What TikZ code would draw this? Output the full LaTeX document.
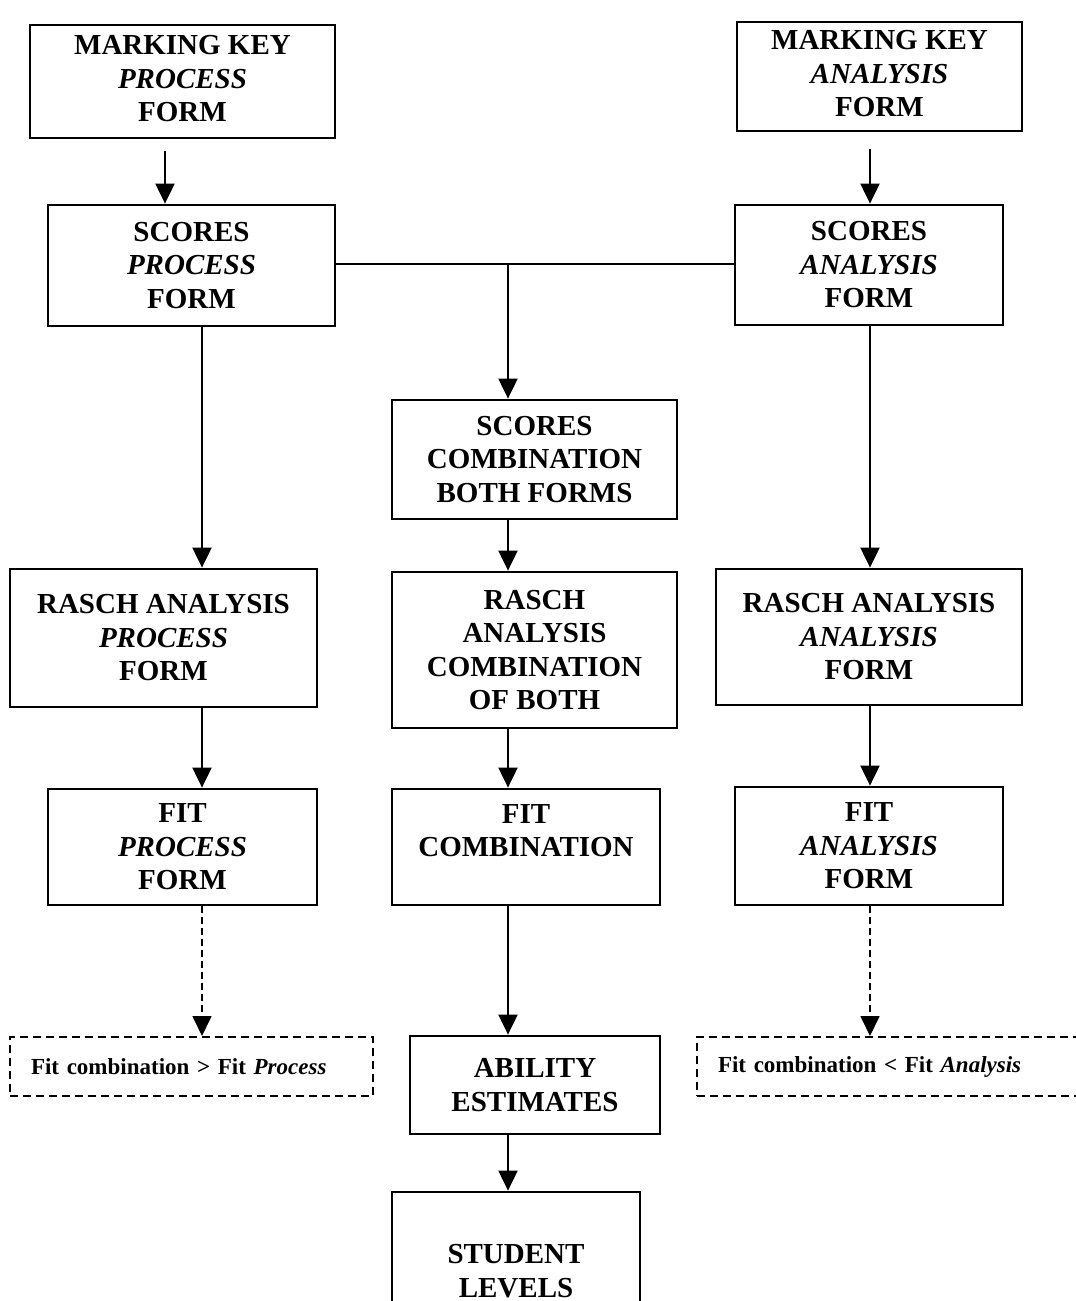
\documentclass[tikz,border=0pt]{standalone}
\usepackage{fontspec}
\setmainfont{Liberation Serif}
\usetikzlibrary{arrows.meta}
\begin{document}
\begin{tikzpicture}[x=1pt,y=-1pt,
  box/.style={draw, line width=2.8pt, inner sep=0pt, align=center,
    font=\bfseries\fontsize{29}{33.5}\selectfont},
  dbox/.style={draw, line width=2pt, dash pattern=on 8pt off 5pt, inner sep=0pt,
    font=\bfseries\fontsize{23}{26}\selectfont},
  arr/.style={line width=2pt, -{Triangle[length=20pt,width=19pt]}},
  darr/.style={line width=1.7pt, dash pattern=on 7pt off 4pt, -{Triangle[length=20pt,width=19pt]}}]
\useasboundingbox (0,0) rectangle (1076,1301);
\clip (0,0) rectangle (1076,1301);
\node[box, minimum width=305pt, minimum height=113pt] (mkp) at (182.5,81.5) {\raisebox{5pt}{\begin{tabular}{@{}c@{}}MARKING KEY\\\textit{PROCESS}\\FORM\end{tabular}}};
\node[box, minimum width=285pt, minimum height=109pt] (mka) at (879.5,76.5) {\raisebox{3pt}{\begin{tabular}{@{}c@{}}MARKING KEY\\\textit{ANALYSIS}\\FORM\end{tabular}}};
\node[box, minimum width=287pt, minimum height=121pt] (sp) at (191.5,265.5) {SCORES\\\textit{PROCESS}\\FORM};
\node[box, minimum width=268pt, minimum height=120pt] (sa) at (869,265) {SCORES\\\textit{ANALYSIS}\\FORM};
\node[box, minimum width=285pt, minimum height=119pt] (sc) at (534.5,459.5) {SCORES\\COMBINATION\\BOTH FORMS};
\node[box, minimum width=307pt, minimum height=138pt] (rp) at (163.5,638) {RASCH ANALYSIS\\\textit{PROCESS}\\FORM};
\node[box, minimum width=285pt, minimum height=156pt] (rc) at (534.5,650) {RASCH\\ANALYSIS\\COMBINATION\\OF BOTH};
\node[box, minimum width=306pt, minimum height=136pt] (ra) at (869,637) {RASCH ANALYSIS\\\textit{ANALYSIS}\\FORM};
\node[box, minimum width=269pt, minimum height=116pt] (fp) at (182.5,847) {FIT\\\textit{PROCESS}\\FORM};
\node[box, minimum width=268pt, minimum height=116pt] (fc) at (526,847) {FIT\\COMBINATION\\~};
\node[box, minimum width=268pt, minimum height=118pt] (fa) at (869,846) {FIT\\\textit{ANALYSIS}\\FORM};
\node[dbox, minimum width=363pt, minimum height=59pt, text width=321pt, align=left] (dl) at (191.5,1066.5) {Fit combination > Fit \textit{Process}};
\node[box, minimum width=250pt, minimum height=98pt] (ab) at (535,1085) {ABILITY\\ESTIMATES};
\node[dbox, minimum width=403pt, minimum height=59pt, text width=361pt, align=left] (dr) at (898.5,1066.5) {Fit combination < Fit \textit{Analysis}};
\node[box, minimum width=248pt, minimum height=158pt] (sl) at (516,1271) {STUDENT\\LEVELS};
\coordinate (xa) at (165,0);
\coordinate (xb) at (870,0);
\coordinate (xl) at (202,0);
\coordinate (xm) at (508,0);
\coordinate (xr) at (870,0);
\coordinate (j) at (508,264);
\draw[arr, shorten <=12pt] (mkp.south -| xa) -- (sp.north -| xa);
\draw[arr, shorten <=17pt] (mka.south -| xb) -- (sa.north -| xb);
\draw[line width=2pt] (sp.east |- j) -- (sa.west |- j);
\draw[arr] (j) -- (sc.north -| j);
\draw[arr] (sp.south -| xl) -- (rp.north -| xl);
\draw[arr] (sa.south -| xr) -- (ra.north -| xr);
\draw[arr] (sc.south -| xm) -- (rc.north -| xm);
\draw[arr] (rp.south -| xl) -- (fp.north -| xl);
\draw[arr] (rc.south -| xm) -- (fc.north -| xm);
\draw[arr] (ra.south -| xr) -- (fa.north -| xr);
\draw[darr] (fp.south -| xl) -- (dl.north -| xl);
\draw[arr] (fc.south -| xm) -- (ab.north -| xm);
\draw[darr] (fa.south -| xr) -- (dr.north -| xr);
\draw[arr] (ab.south -| xm) -- (sl.north -| xm);
\end{tikzpicture}
\end{document}
